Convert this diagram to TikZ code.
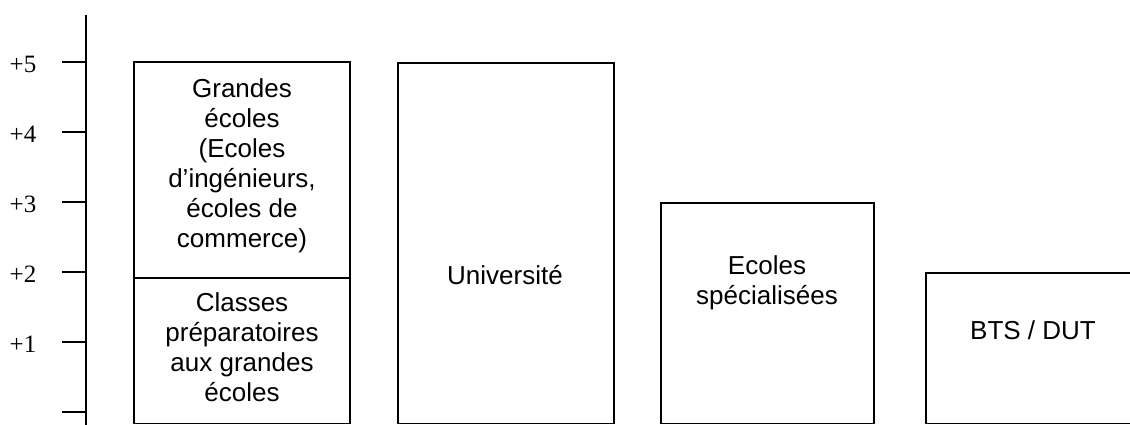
\documentclass[tikz,border=0pt]{standalone}
\usepackage{fontspec}
\setmainfont{Liberation Sans}
\newfontfamily\tickfont{Liberation Serif}
\usetikzlibrary{positioning}

\begin{document}
\begin{tikzpicture}[x=0.02cm, y=-0.02cm, line width=1.1pt,
        boxtext/.style={align=center, inner sep=0pt, font=\fontsize{14.8}{17.1}\selectfont},
        ticklabel/.style={inner sep=0pt, font=\tickfont\fontsize{14.2}{16}\selectfont}]
        \useasboundingbox (0,0) rectangle (1130,424);
        \coordinate (axtop) at (86,15);
        \coordinate (axbot) at (86,426);
        \draw (axtop)--(axbot);
        \draw (62,62)--(86,62);
        \draw (62,132)--(86,132);
        \draw (62,202)--(86,202);
        \draw (62,272)--(86,272);
        \draw (62,342)--(86,342);
        \draw (62,412)--(86,412);
        \node[ticklabel] (l5) at (23,64) {+5};
        \node[ticklabel] (l4) at (23,134) {+4};
        \node[ticklabel] (l3) at (23,204) {+3};
        \node[ticklabel] (l2) at (23,274) {+2};
        \node[ticklabel] (l1) at (23,344) {+1};
        
        \draw (134,423.5) rectangle (350,62);
        \draw (134,278)--(350,278);
        \draw (398,423.5) rectangle (614,63);
        \draw (661,423.5) rectangle (874,203);
        \draw (926,423.5) rectangle (1140,273);
        \node[boxtext] (ge) at (242,166) {Grandes\\écoles\\(Ecoles\\d’ingénieurs,\\écoles de\\commerce)};
        \node[boxtext] (prepa) at (242,347) {Classes\\préparatoires\\aux grandes\\écoles};
        \node[boxtext] (univ) at (505,275) {Université};
        \node[boxtext] (spec) at (767,283) {Ecoles\\spécialisées};
        \node[boxtext] (bts) at (1033,330) {BTS / DUT};
        \end{tikzpicture}
\end{document}
